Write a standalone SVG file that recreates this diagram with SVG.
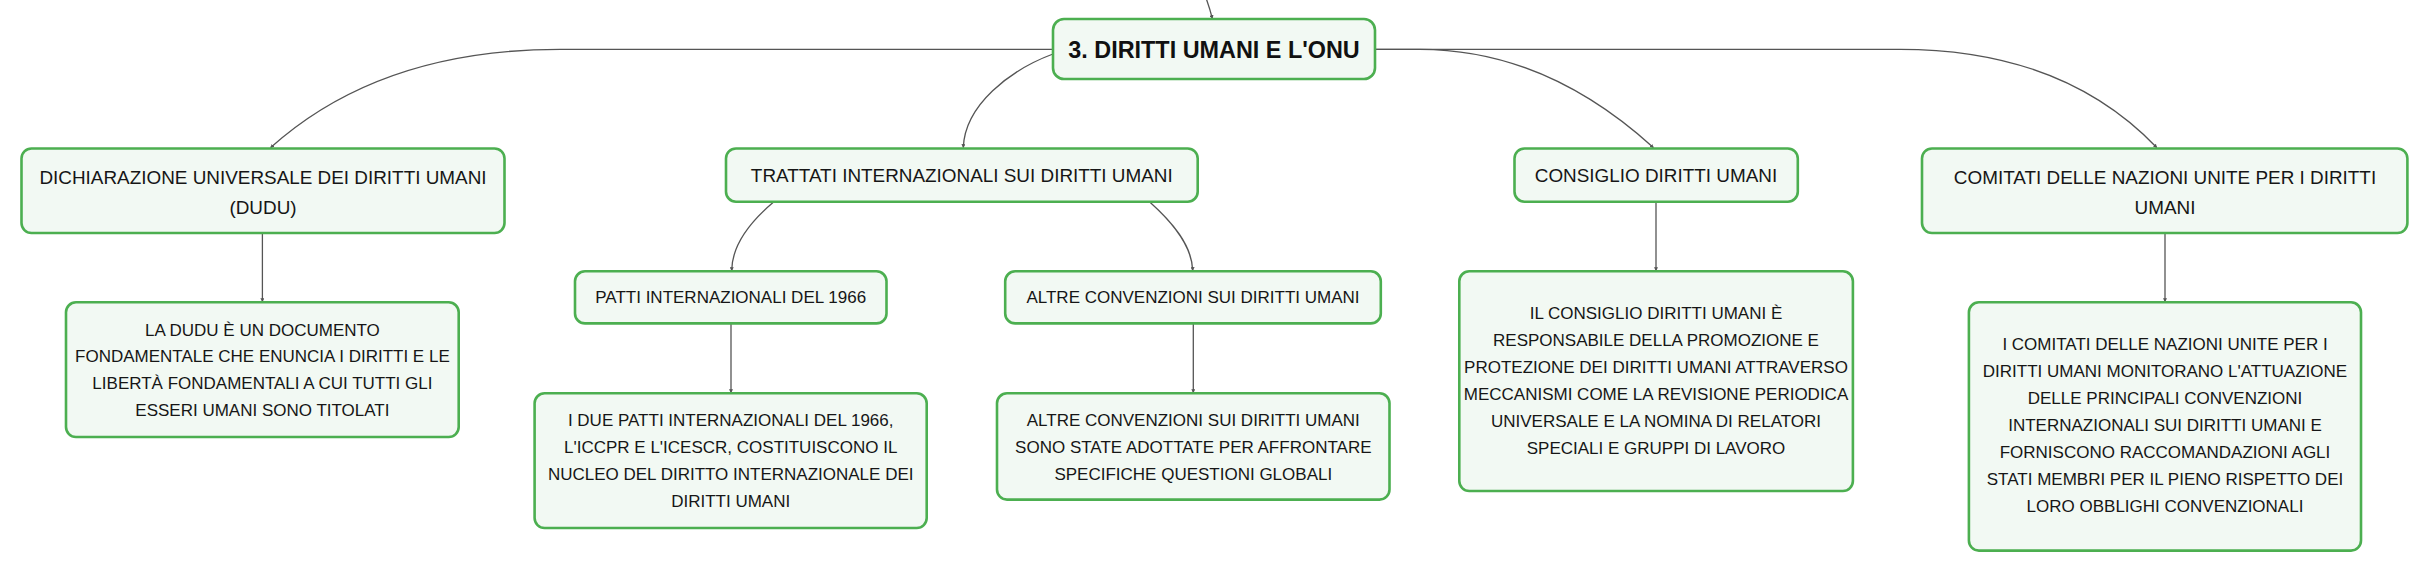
<svg xmlns="http://www.w3.org/2000/svg" width="2428" height="571" viewBox="0 0 2428 571">
<defs>
<style>
.box{fill:#f2f9f3;stroke:#4caf50;stroke-width:2.6}
.t1{font-family:"Liberation Sans",Arial,sans-serif;font-size:18.9px;fill:#161616;text-anchor:middle}
.t2{font-family:"Liberation Sans",Arial,sans-serif;font-size:17px;fill:#161616;text-anchor:middle}
.root{font-family:"Liberation Sans",Arial,sans-serif;font-size:23.4px;font-weight:bold;fill:#111;text-anchor:middle}
.c{fill:none;stroke:#555;stroke-width:1.3}
</style>
<marker id="ah" viewBox="0 0 6 6" refX="5" refY="3" markerWidth="4" markerHeight="4" orient="auto" markerUnits="userSpaceOnUse">
<path d="M0,0 L6,3 L0,6 z" fill="#555"/>
</marker>
</defs>
<rect width="2428" height="571" fill="#ffffff"/>
<g id="connectors">
<path class="c" d="M1206,-2 Q1210,9 1212.3,18.5" marker-end="url(#ah)"/>
<path class="c" d="M1053,49.3 H560 Q380,49.3 270.7,147.5" marker-end="url(#ah)"/>
<path class="c" d="M1053,54 C1010,70 965,105 963.3,147.5" marker-end="url(#ah)"/>
<path class="c" d="M1375,49.3 H1420 Q1545,49.3 1653.3,147.5" marker-end="url(#ah)"/>
<path class="c" d="M1375,49.3 H1900 Q2062.7,49.3 2156.7,147.5" marker-end="url(#ah)"/>
<path class="c" d="M773.3,202.3 C750,222 732,245 731.7,270.5" marker-end="url(#ah)"/>
<path class="c" d="M1150,202.3 C1172,222 1192,245 1192.7,270.5" marker-end="url(#ah)"/>
<path class="c" d="M262.4,233 V301.5" marker-end="url(#ah)"/>
<path class="c" d="M731,323.4 V392.5" marker-end="url(#ah)"/>
<path class="c" d="M1193.3,323.4 V392.5" marker-end="url(#ah)"/>
<path class="c" d="M1656,201.7 V270.5" marker-end="url(#ah)"/>
<path class="c" d="M2165,233 V301.5" marker-end="url(#ah)"/>
</g>
<g id="root">
<rect class="box" x="1053" y="19" width="322" height="60" rx="11"/>
<text class="root" x="1214" y="57.5">3. DIRITTI UMANI E L'ONU</text>
</g>
<g id="dudu">
<rect class="box" x="21.5" y="148.5" width="483" height="84.5" rx="10"/>
<text class="t1" x="263" y="183.5">DICHIARAZIONE UNIVERSALE DEI DIRITTI UMANI</text>
<text class="t1" x="263" y="213.5">(DUDU)</text>
</g>
<g id="dudu-desc">
<rect class="box" x="66" y="302.3" width="392.7" height="134.7" rx="10"/>
<text class="t2" x="262.4" y="335.5">LA DUDU È UN DOCUMENTO</text>
<text class="t2" x="262.4" y="362.4">FONDAMENTALE CHE ENUNCIA I DIRITTI E LE</text>
<text class="t2" x="262.4" y="389.3">LIBERTÀ FONDAMENTALI A CUI TUTTI GLI</text>
<text class="t2" x="262.4" y="416.2">ESSERI UMANI SONO TITOLATI</text>
</g>
<g id="trattati">
<rect class="box" x="726" y="148.5" width="471.7" height="53.2" rx="10"/>
<text class="t1" x="961.8" y="181.8">TRATTATI INTERNAZIONALI SUI DIRITTI UMANI</text>
</g>
<g id="patti">
<rect class="box" x="575" y="271.3" width="311.5" height="52.1" rx="10"/>
<text class="t2" x="730.7" y="303.1">PATTI INTERNAZIONALI DEL 1966</text>
</g>
<g id="patti-desc">
<rect class="box" x="534.6" y="393.3" width="392.1" height="134.7" rx="10"/>
<text class="t2" x="730.7" y="425.8">I DUE PATTI INTERNAZIONALI DEL 1966,</text>
<text class="t2" x="730.7" y="452.7">L'ICCPR E L'ICESCR, COSTITUISCONO IL</text>
<text class="t2" x="730.7" y="479.6">NUCLEO DEL DIRITTO INTERNAZIONALE DEI</text>
<text class="t2" x="730.7" y="506.5">DIRITTI UMANI</text>
</g>
<g id="altre">
<rect class="box" x="1005.2" y="271.3" width="375.6" height="52.1" rx="10"/>
<text class="t2" x="1193" y="303.1">ALTRE CONVENZIONI SUI DIRITTI UMANI</text>
</g>
<g id="altre-desc">
<rect class="box" x="997" y="393.3" width="392.5" height="106.3" rx="10"/>
<text class="t2" x="1193.3" y="425.8">ALTRE CONVENZIONI SUI DIRITTI UMANI</text>
<text class="t2" x="1193.3" y="452.7">SONO STATE ADOTTATE PER AFFRONTARE</text>
<text class="t2" x="1193.3" y="479.6">SPECIFICHE QUESTIONI GLOBALI</text>
</g>
<g id="consiglio">
<rect class="box" x="1514.5" y="148.5" width="283.3" height="53.2" rx="10"/>
<text class="t1" x="1656" y="181.8">CONSIGLIO DIRITTI UMANI</text>
</g>
<g id="consiglio-desc">
<rect class="box" x="1459.3" y="271.3" width="393.6" height="219.7" rx="10"/>
<text class="t2" x="1656" y="318.5">IL CONSIGLIO DIRITTI UMANI È</text>
<text class="t2" x="1656" y="345.5">RESPONSABILE DELLA PROMOZIONE E</text>
<text class="t2" x="1656" y="372.5">PROTEZIONE DEI DIRITTI UMANI ATTRAVERSO</text>
<text class="t2" x="1656" y="399.5">MECCANISMI COME LA REVISIONE PERIODICA</text>
<text class="t2" x="1656" y="426.5">UNIVERSALE E LA NOMINA DI RELATORI</text>
<text class="t2" x="1656" y="453.5">SPECIALI E GRUPPI DI LAVORO</text>
</g>
<g id="comitati">
<rect class="box" x="1922" y="148.5" width="485.4" height="84.5" rx="10"/>
<text class="t1" x="2165" y="183.5">COMITATI DELLE NAZIONI UNITE PER I DIRITTI</text>
<text class="t1" x="2165" y="213.5">UMANI</text>
</g>
<g id="comitati-desc">
<rect class="box" x="1968.9" y="302.3" width="392.1" height="248.3" rx="10"/>
<text class="t2" x="2165" y="350.2">I COMITATI DELLE NAZIONI UNITE PER I</text>
<text class="t2" x="2165" y="377.2">DIRITTI UMANI MONITORANO L'ATTUAZIONE</text>
<text class="t2" x="2165" y="404.2">DELLE PRINCIPALI CONVENZIONI</text>
<text class="t2" x="2165" y="431.2">INTERNAZIONALI SUI DIRITTI UMANI E</text>
<text class="t2" x="2165" y="458.2">FORNISCONO RACCOMANDAZIONI AGLI</text>
<text class="t2" x="2165" y="485.2">STATI MEMBRI PER IL PIENO RISPETTO DEI</text>
<text class="t2" x="2165" y="512.2">LORO OBBLIGHI CONVENZIONALI</text>
</g>
</svg>
